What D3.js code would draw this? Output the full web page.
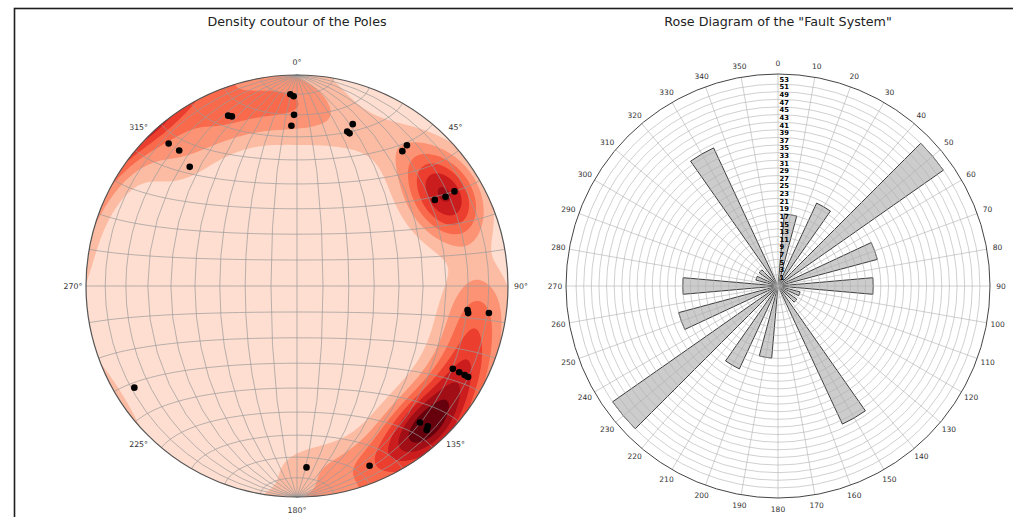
<!DOCTYPE html>
<html>
<head>
<meta charset="utf-8">
<script src="https://cdn.jsdelivr.net/npm/d3@7"></script>
<style>
body { margin: 0; background: #fff; }
text { font-family: "DejaVu Sans", sans-serif; }
</style>
</head>
<body>
<svg id="chart" width="1013" height="517"></svg>
<script>
// poles of the planes (trend / plunge, degrees) read off the stereonet,
// with the number of measurements stacked on each spot
const poleTrend  = [358, 359, 359, 358, 338, 339, 318, 319, 318, 19, 18, 19, 38, 38, 59, 59, 58, 98, 99, 98, 118, 118, 118, 118, 138, 138, 137, 158, 177, 238];
const polePlunge = [10, 11, 20, 25, 14, 15, 10, 16, 25, 20, 24, 24.5, 16.5, 20, 14, 19, 24, 19.5, 19, 9, 17.5, 14, 11, 9, 14, 9, 10, 9, 15, 10];
const poleCount  = [6, 5, 4, 3, 7, 7, 4, 4, 3, 2, 2, 2, 3, 3, 12, 15, 12, 6, 5, 8, 5, 6, 6, 7, 15, 14, 13, 13, 7, 1];
const azimuthTicks = [0, 45, 90, 135, 180, 225, 270, 315];
const nLevels = 8;
const kambSigma = 3.8;

// rose diagram: bin centres and counts (two mirrored halves)
const roseBins   = [0, 10, 20, 30, 40, 50, 60, 70, 80, 90, 100, 110, 120, 130, 140, 150, 160, 170,
                    180, 190, 200, 210, 220, 230, 240, 250, 260, 270, 280, 290, 300, 310, 320, 330, 340, 350];
const roseCounts = [0, 19, 0, 24, 0, 53, 0, 27, 0, 25, 0, 6, 0, 6, 0, 40, 0, 0,
                    0, 19, 0, 24, 0, 53, 0, 27, 0, 25, 0, 6, 0, 6, 0, 40, 0, 0];
const rLabels = d3.range(1, 54, 2);
const thetaTicks = d3.range(0, 360, 10);

const svg = d3.select('#chart');
const rad = Math.PI / 180;

// frame
svg.append('rect')
    .attr('x', 14.5).attr('y', 8.5)
    .attr('width', 1100).attr('height', 600)
    .attr('fill', 'none').attr('stroke', '#1e1e1e').attr('stroke-width', 1.6);

// ---------------- stereonet ----------------
const cx = 297, cy = 286, R = 211;

const proj = d3.geoAzimuthalEqualArea()
    .rotate([0, 0])
    .scale(R / Math.SQRT2)
    .translate([cx, cy])
    .clipAngle(90);
const geo = d3.geoPath(proj);

// line (trend/plunge) -> native lon/lat of the stereonet
const poles = poleTrend.map((t, i) => {
    const p = polePlunge[i] * rad, tr = t * rad;
    const lon = Math.atan2(Math.cos(p) * Math.sin(tr), Math.sin(p)) / rad;
    const lat = Math.asin(Math.cos(p) * Math.cos(tr)) / rad;
    return [lon, lat];
});

function toXYZ(ll) {
    const lo = ll[0] * rad, la = ll[1] * rad;
    return [Math.cos(la) * Math.cos(lo), Math.cos(la) * Math.sin(lo), Math.sin(la)];
}
const poleXYZ = poles.map(toXYZ);

// exponential kamb
const nPts = d3.sum(poleCount);
const fk = 2 * (1 + nPts / (kambSigma * kambSigma));
const units = Math.sqrt(nPts * (fk / 2 - 1) / (fk * fk));
function density(v) {
    let s = 0;
    poleXYZ.forEach((q, i) => {
        const c = Math.abs(v[0] * q[0] + v[1] * q[1] + v[2] * q[2]);
        s += poleCount[i] * Math.exp(fk * (c - 1));
    });
    return Math.max(0, (s - 0.5) / units);
}

const cell = 2.5;
const x0 = cx - R - 6, y0 = cy - R - 6;
const gs = Math.ceil((2 * R + 12) / cell);
const values = new Array(gs * gs);
for (let j = 0; j < gs; j++) {
    for (let i = 0; i < gs; i++) {
        let dx = x0 + (i + 0.5) * cell - cx, dy = y0 + (j + 0.5) * cell - cy;
        const r = Math.hypot(dx, dy);
        if (r > R * 0.999) { dx *= R * 0.999 / r; dy *= R * 0.999 / r; }
        const ll = proj.invert([cx + dx, cy + dy]);
        values[i + j * gs] = density(toXYZ(ll));
    }
}
const dmax = d3.max(values);
const levels = d3.range(0, nLevels + 1).map(k => k * dmax / nLevels);
const bandColor = k => d3.interpolateReds(0.12 + 0.88 * k / (nLevels - 1));

const net = svg.append('g');
net.append('clipPath').attr('id', 'netClip')
    .append('circle').attr('cx', cx).attr('cy', cy).attr('r', R);

net.append('circle')
    .attr('cx', cx).attr('cy', cy).attr('r', R)
    .attr('fill', bandColor(0));

const gridPath = d3.geoPath(d3.geoTransform({
    point: function(x, y) { this.stream.point(x0 + x * cell, y0 + y * cell); }
}));
const contours = d3.contours().size([gs, gs]).thresholds(levels.slice(1, nLevels))(values);
net.append('g').attr('clip-path', 'url(#netClip)')
    .selectAll('path')
    .data(contours)
    .join('path')
    .attr('d', gridPath)
    .attr('fill', (d, i) => bandColor(i + 1));

// graticule (10 degrees)
const graticule = d3.geoGraticule()
    .extentMajor([[-180, -90], [180, 90]])
    .extentMinor([[-180, -90], [180, 90]])
    .step([10, 10]);
net.append('path')
    .datum(graticule())
    .attr('d', geo)
    .attr('fill', 'none')
    .attr('stroke', '#9a9a9a')
    .attr('stroke-width', 0.7);

net.append('circle')
    .attr('cx', cx).attr('cy', cy).attr('r', R)
    .attr('fill', 'none').attr('stroke', '#555').attr('stroke-width', 1.2);

net.selectAll('.pole')
    .data(poles)
    .join('circle')
    .attr('class', 'pole')
    .attr('cx', d => proj(d)[0])
    .attr('cy', d => proj(d)[1])
    .attr('r', 3.3)
    .attr('fill', '#000');

net.selectAll('.az')
    .data(azimuthTicks)
    .join('text')
    .attr('class', 'az')
    .attr('x', d => cx + (R + 13) * Math.sin(d * rad))
    .attr('y', d => cy - (R + 13) * Math.cos(d * rad))
    .attr('text-anchor', 'middle')
    .attr('dominant-baseline', 'central')
    .attr('font-size', '7.8px')
    .attr('fill', '#333')
    .text(d => d + '°');

svg.append('text')
    .attr('x', cx).attr('y', 26)
    .attr('text-anchor', 'middle')
    .attr('font-size', '12.7px')
    .attr('fill', '#222')
    .text('Density coutour of the Poles');

// ---------------- rose diagram ----------------
const rx = 778, ry = 286, Rr = 212;
const rScale = d3.scaleLinear()
    .domain([0, d3.max(roseCounts) * 1.05])
    .range([0, Rr]);

const rose = svg.append('g').attr('transform', `translate(${rx},${ry})`);

const arc = d3.arc()
    .innerRadius(0)
    .outerRadius(d => rScale(d.v))
    .startAngle(d => (d.a - 5) * rad)
    .endAngle(d => (d.a + 5) * rad);

rose.selectAll('.bar')
    .data(roseBins.map((a, i) => ({ a: a, v: roseCounts[i] })).filter(d => d.v > 0))
    .join('path')
    .attr('class', 'bar')
    .attr('d', arc)
    .attr('fill', '#cccccc')
    .attr('stroke', '#111')
    .attr('stroke-width', 0.8);

// grid over bars
rose.selectAll('.rgrid')
    .data(rLabels)
    .join('circle')
    .attr('class', 'rgrid')
    .attr('r', d => rScale(d))
    .attr('fill', 'none')
    .attr('stroke', '#b0b0b0')
    .attr('stroke-width', 0.7)
    .attr('stroke-opacity', 0.85);

rose.selectAll('.spoke')
    .data(thetaTicks)
    .join('line')
    .attr('class', 'spoke')
    .attr('x1', 0).attr('y1', 0)
    .attr('x2', d => Rr * Math.sin(d * rad))
    .attr('y2', d => -Rr * Math.cos(d * rad))
    .attr('stroke', '#b0b0b0')
    .attr('stroke-width', 0.7)
    .attr('stroke-opacity', 0.85);

rose.append('circle')
    .attr('r', Rr)
    .attr('fill', 'none')
    .attr('stroke', '#444')
    .attr('stroke-width', 1);

rose.selectAll('.theta')
    .data(thetaTicks)
    .join('text')
    .attr('class', 'theta')
    .attr('x', d => (Rr + 11) * Math.sin(d * rad))
    .attr('y', d => -(Rr + 11) * Math.cos(d * rad))
    .attr('text-anchor', 'middle')
    .attr('dominant-baseline', 'central')
    .attr('font-size', '7.5px')
    .attr('fill', '#333')
    .text(d => d);

rose.selectAll('.rlab')
    .data(rLabels)
    .join('text')
    .attr('class', 'rlab')
    .attr('x', 1.5)
    .attr('y', d => -rScale(d) - 4.3)
    .attr('dominant-baseline', 'central')
    .attr('font-size', '6.8px')
    .attr('font-weight', 900)
    .attr('fill', '#000')
    .text(d => d);

svg.append('text')
    .attr('x', rx).attr('y', 26)
    .attr('text-anchor', 'middle')
    .attr('font-size', '12.7px')
    .attr('fill', '#222')
    .text('Rose Diagram of the "Fault System"');
</script>
</body>
</html>
